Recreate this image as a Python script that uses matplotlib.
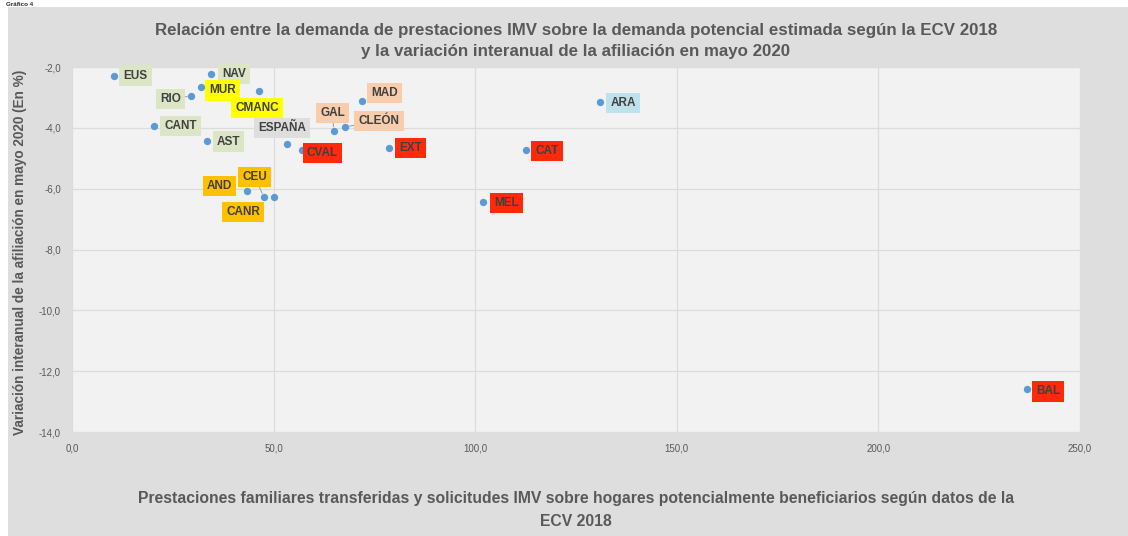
import matplotlib
matplotlib.use("Agg")
import matplotlib.pyplot as plt
from matplotlib.patches import Rectangle
from matplotlib.ticker import FuncFormatter

plt.rcParams['font.family'] = ['Liberation Sans', 'DejaVu Sans']

# datos
regiones = ['EUS', 'NAV', 'MUR', 'RIO', 'CMANC', 'CANT', 'AST', 'ESPAÑA', 'CVAL', 'GAL',
            'CLEÓN', 'MAD', 'EXT', 'ARA', 'CAT', 'MEL', 'BAL', 'AND', 'CEU', 'CANR']
demanda = [10.3, 34.5, 31.9, 29.6, 46.4, 20.4, 33.6, 53.4, 57.1, 64.9,
           67.7, 72.0, 78.7, 131.0, 112.6, 102.0, 236.9, 43.3, 47.6, 50.1]
afiliacion = [-2.28, -2.23, -2.67, -2.95, -2.80, -3.93, -4.42, -4.53, -4.72, -4.10,
              -3.97, -3.12, -4.66, -3.16, -4.73, -6.45, -12.60, -6.08, -6.28, -6.28]
grupo = ['verde', 'verde', 'amarillo', 'verde', 'amarillo', 'verde', 'verde', 'gris', 'rojo', 'salmon',
         'salmon', 'salmon', 'rojo', 'azul', 'rojo', 'rojo', 'rojo', 'oro', 'oro', 'oro']

# estilo de las etiquetas
colores = {'verde': '#dce6c6', 'amarillo': '#ffff00', 'gris': '#dedede', 'rojo': '#ff2a0a',
           'salmon': '#f9cdac', 'azul': '#bfe1ec', 'oro': '#ffc000'}
# desplazamiento de la etiqueta en pixeles (dx, dy)
offsets = [(22, 0), (23, 0), (22, -3), (-21, -3), (-2, -17), (26, 0), (21, -1), (-5, 16), (20, -3), (-1, 18),
           (34, 6), (22, 8), (21, 0), (23, -1), (21, -1), (23, -1), (21, -2), (-27, 5), (-9, 20), (-31, -15)]
con_linea = {'RIO', 'GAL', 'CLEÓN', 'CEU'}

W, H = 1128, 536
fig = plt.figure(figsize=(W / 100, H / 100), dpi=100, facecolor='white')
fig.patches.append(Rectangle((8 / W, 0), 1, 1 - 7 / H, transform=fig.transFigure,
                             facecolor='#dedede', edgecolor='none', zorder=-10))
fig.text(6 / W, 1 - 6.5 / H, 'Gráfico 4', fontsize=4.5, fontweight='bold', color='#262626',
         va='baseline', ha='left')

ax = fig.add_axes([72 / W, 1 - 432 / H, (1080 - 72) / W, (432 - 67) / H])
ax.set_facecolor('#f2f2f2')
ax.set_xlim(0, 250)
ax.set_ylim(-14, -2)
ax.set_xticks([0, 50, 100, 150, 200, 250])
ax.set_yticks([-2, -4, -6, -8, -10, -12, -14])
fmt = FuncFormatter(lambda v, p: ('%.1f' % v).replace('.', ','))
ax.xaxis.set_major_formatter(fmt)
ax.yaxis.set_major_formatter(fmt)
ax.tick_params(length=0, labelsize=7, colors='#595959')
ax.tick_params(axis='x', pad=8)
ax.tick_params(axis='y', pad=8)
ax.grid(True, color='#dcdcdc', lw=0.9)
ax.set_axisbelow(True)
for s in ax.spines.values():
    s.set_visible(False)

ax.scatter(demanda, afiliacion, s=28, color='#5b9bd5', zorder=3, linewidths=0)

for nombre, x, y, g, off in zip(regiones, demanda, afiliacion, grupo, offsets):
    arrow = None
    if nombre in con_linea:
        arrow = dict(arrowstyle='-', color='#a6a6a6', lw=0.8, shrinkA=0, shrinkB=3)
    ax.annotate(nombre, (x, y), xytext=off, textcoords='offset pixels',
                ha='center', va='center', fontsize=8.5, fontweight='bold', color='#404040',
                bbox=dict(boxstyle='square,pad=0.35', facecolor=colores[g], edgecolor='none'),
                arrowprops=arrow, zorder=4)

fig.text((72 + 1080) / 2 / W, 1 - 41 / H,
         'Relación entre la demanda de prestaciones IMV sobre la demanda potencial estimada según la ECV 2018\n'
         'y la variación interanual de la afiliación en mayo 2020',
         ha='center', va='center', fontsize=12.2, fontweight='bold', color='#595959', linespacing=1.55)
fig.text((72 + 1080) / 2 / W, 1 - 510 / H,
         'Prestaciones familiares transferidas y solicitudes IMV sobre hogares potencialmente beneficiarios según datos de la\n'
         'ECV 2018',
         ha='center', va='center', fontsize=11.3, fontweight='bold', color='#595959', linespacing=1.75)
fig.text(20 / W, 1 - 252 / H, 'Variación interanual de la afiliación en mayo 2020 (En %)',
         rotation=90, ha='center', va='center', fontsize=9.8, fontweight='bold', color='#595959')

fig.savefig('out.png', dpi=100, facecolor=fig.get_facecolor())
